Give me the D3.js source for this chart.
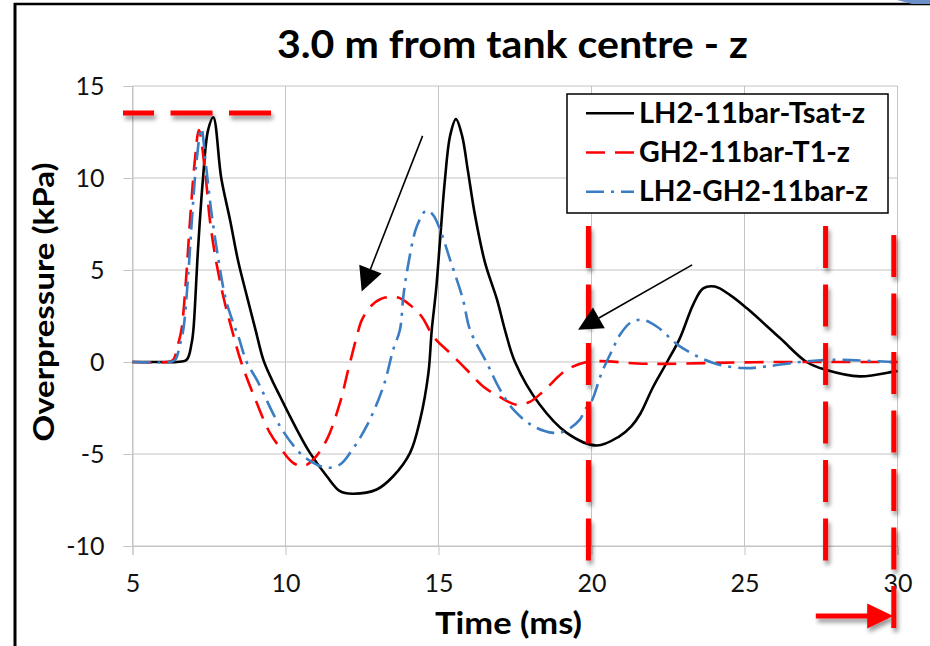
<!DOCTYPE html>
<html>
<head>
<meta charset="utf-8">
<script src="https://cdn.jsdelivr.net/npm/d3@7"></script>
<style>
  body { margin: 0; background: #fff; }
  svg { display: block; }
  text { font-family: Lato, "Open Sans", "Noto Sans", sans-serif; }
</style>
</head>
<body>
<svg id="chart" width="930" height="646"></svg>
<script>
// ---- series data: time (ms) and overpressure (kPa) ----
const blackTime = [5.0, 6.0, 6.44, 6.77, 6.93, 6.99, 7.14, 7.30, 7.47, 7.64, 7.90, 8.19, 8.45, 8.75, 9.02, 9.28,
  9.55, 9.82, 10.10, 10.37, 10.80, 11.35, 11.78, 12.18, 12.98, 13.52, 14.07, 14.40, 14.67, 14.78, 14.92, 15.05,
  15.21, 15.38, 15.57, 15.77, 15.96, 16.19, 16.52, 16.91, 17.17, 17.50, 18.30, 19.19, 20.17, 20.90, 21.30, 21.60,
  22.00, 22.47, 22.89, 23.33, 23.65, 24.03, 24.52, 25.07, 26.16, 27.03, 27.65, 28.77, 29.92, 30.0];
const blackKPa = [0, 0, 0, 0.12, 1.0, 1.75, 6.1, 9.9, 12.6, 13.3, 10.0, 7.7, 5.5, 3.5, 1.75, 0.1,
  -0.95, -1.86, -2.8, -3.67, -4.94, -6.21, -7.02, -7.16, -6.93, -6.21, -4.94, -3.13, -0.6, 1.75, 3.9, 6.6,
  9.9, 12.3, 13.2, 12.3, 10.4, 8.0, 5.4, 3.4, 1.75, 0, -2.3, -3.85, -4.54, -4.05, -3.5, -2.8,
  -1.4, 0, 1.3, 3.15, 4.0, 4.1, 3.65, 2.93, 1.3, 0, -0.42, -0.78, -0.51, -0.5];

const redTime = [5.0, 6.12, 6.33, 6.50, 6.60, 6.75, 6.88, 7.04, 7.17, 7.37, 7.53, 7.73, 7.99, 8.25, 8.55, 9.06,
  9.49, 9.87, 10.25, 10.58, 10.91, 11.35, 11.78, 12.05, 12.33, 12.50, 12.83, 13.25, 13.68, 14.07, 14.46, 14.83,
  15.40, 15.92, 16.45, 17.00, 17.55, 18.00, 18.42, 19.19, 19.84, 20.30, 21.50, 22.50, 24.0, 26.0, 28.0, 30.0];
const redKPa = [0, 0, 0.12, 1.03, 1.75, 4.5, 7.7, 11.0, 12.6, 10.4, 7.7, 5.5, 3.4, 1.75, 0, -2.22,
  -3.85, -4.76, -5.48, -5.66, -5.3, -4.22, -2.22, -0.42, 1.39, 2.3, 3.1, 3.5, 3.5, 3.1, 2.45, 1.39,
  0.45, -0.42, -1.32, -1.9, -2.32, -2.15, -1.6, -0.42, 0, 0.05, -0.08, -0.1, -0.05, 0, 0, 0];

const blueTime = [5.0, 6.2, 6.39, 6.55, 6.66, 6.81, 6.94, 7.08, 7.25, 7.40, 7.57, 7.80, 8.05, 8.32, 8.46, 8.73,
  9.06, 9.82, 10.47, 10.91, 11.35, 11.78, 12.11, 12.65, 13.20, 13.52, 13.74, 13.85, 14.00, 14.29, 14.60, 14.82,
  15.05, 15.38, 15.80, 16.03, 16.58, 17.01, 17.45, 18.10, 18.75, 19.13, 19.62, 19.79, 20.00, 20.33, 20.71, 20.93,
  21.26, 21.64, 22.13, 22.89, 23.98, 24.96, 25.73, 26.81, 27.90, 29.86, 30.0];
const blueKPa = [0, 0, 0.1, 0.94, 1.75, 4.5, 7.7, 10.7, 12.7, 10.7, 8.25, 5.65, 3.4, 2.0, 1.39, 0,
  -0.96, -3.49, -4.94, -5.48, -5.75, -5.57, -4.94, -3.49, -1.32, 0.67, 1.75, 3.56, 5.2, 7.36, 8.23, 8.0,
  7.2, 5.55, 3.4, 1.75, -0.05, -1.5, -2.59, -3.49, -3.85, -3.76, -3.13, -2.59, -2.14, -0.6, 0.76, 1.48,
  2.12, 2.3, 1.93, 0.85, -0.05, -0.33, -0.24, 0, 0.12, 0, 0];

const seriesNames = ["LH2-11bar-Tsat-z", "GH2-11bar-T1-z", "LH2-GH2-11bar-z"];
const xTicks = [5, 10, 15, 20, 25, 30];
const yTicks = [-10, -5, 0, 5, 10, 15];

// annotation positions (data units)
const peakLevelKPa = 13.53;
const peakLevelSpan = [4.69, 9.56];
const markerTimes = [19.9, 27.65, 29.88];
const markerTopKPa = [7.39, 7.39, 6.9];
const markerBottomKPa = [-10.79, -10.79, -14.46];
const endArrowTime = [27.33, 29.86];
const endArrowKPa = -13.8;
const pointerFrom = [[14.48, 12.29], [23.29, 5.28]];
const pointerTo = [[12.49, 3.83], [19.56, 1.75]];

// ---- layout ----
const svg = d3.select("#chart");
const x = d3.scaleLinear().domain([5, 30]).range([132.5, 897.5]);
const y = d3.scaleLinear().domain([-10, 15]).range([546, 86]);
const gridColor = "#c4c4c4";

svg.append("rect").attr("width", 930).attr("height", 646).attr("fill", "#fff");

// slide frame
svg.append("line").attr("x1", 15).attr("x2", 15).attr("y1", 3).attr("y2", 646)
  .attr("stroke", "#000").attr("stroke-width", 3);
svg.append("line").attr("x1", 14).attr("x2", 930).attr("y1", 4).attr("y2", 4)
  .attr("stroke", "#000").attr("stroke-width", 2.5);
svg.append("path").attr("d", "M897,0 L930,0 L930,4 L912,4 Z").attr("fill", "#6b8fc7");

// drop shadow for the red markup shapes
const defs = svg.append("defs");
const f = defs.append("filter").attr("id", "shadow").attr("x", "-50%").attr("y", "-50%")
  .attr("width", "200%").attr("height", "200%");
f.append("feDropShadow").attr("dx", 2).attr("dy", 4).attr("stdDeviation", 2.2)
  .attr("flood-color", "#000").attr("flood-opacity", 0.4);

// gridlines
const grid = svg.append("g");
grid.selectAll(".gx").data(xTicks).join("line")
  .attr("x1", d => x(d)).attr("x2", d => x(d)).attr("y1", y(15)).attr("y2", y(-10))
  .attr("stroke", gridColor).attr("stroke-width", 1);
grid.selectAll(".gy").data(yTicks).join("line")
  .attr("x1", x(5)).attr("x2", x(30)).attr("y1", d => y(d)).attr("y2", d => y(d))
  .attr("stroke", gridColor).attr("stroke-width", 1);

// axes
const fmt = d => String(d);
const yAxis = svg.append("g").attr("transform", `translate(${x(5)},0)`)
  .call(d3.axisLeft(y).tickValues(yTicks).tickSize(9).tickPadding(19).tickFormat(fmt));
const xAxis = svg.append("g").attr("transform", `translate(0,${y(-10)})`)
  .call(d3.axisBottom(x).tickValues(xTicks).tickSize(9).tickPadding(19).tickFormat(fmt));
[yAxis, xAxis].forEach(a => {
  a.select(".domain").attr("stroke", gridColor);
  a.selectAll(".tick line").attr("stroke", gridColor);
  a.selectAll(".tick text").attr("font-size", 25).attr("fill", "#111")
    .attr("font-family", "Lato, 'Open Sans', sans-serif");
});

// series
const line = d3.line().x(d => x(d[0])).y(d => y(d[1])).curve(d3.curveCatmullRom.alpha(0.5));
const zip = (t, v) => t.map((tt, i) => [tt, v[i]]);
const series = [
  { name: seriesNames[0], pts: zip(blackTime, blackKPa), color: "#000", dash: null },
  { name: seriesNames[1], pts: zip(redTime, redKPa), color: "#ff0000", dash: "19 10" },
  { name: seriesNames[2], pts: zip(blueTime, blueKPa), color: "#3a7dc3", dash: "18 7 3 7" }
];
svg.append("g").selectAll("path").data(series).join("path")
  .attr("d", d => line(d.pts)).attr("fill", "none")
  .attr("stroke", d => d.color).attr("stroke-width", 2.6)
  .attr("stroke-linejoin", "round")
  .attr("stroke-dasharray", d => d.dash);

// title and axis titles
svg.append("text").attr("x", 277).attr("y", 58).attr("font-size", 38).attr("font-weight", 700)
  .attr("textLength", 471).attr("lengthAdjust", "spacingAndGlyphs")
  .text("3.0 m from tank centre - z");
svg.append("text").attr("transform", "translate(54,302) rotate(-90)").attr("text-anchor", "middle")
  .attr("font-size", 28).attr("font-weight", 700)
  .attr("textLength", 279).attr("lengthAdjust", "spacingAndGlyphs")
  .text("Overpressure (kPa)");
svg.append("text").attr("x", 435).attr("y", 634).attr("font-size", 30).attr("font-weight", 700)
  .attr("textLength", 147).attr("lengthAdjust", "spacingAndGlyphs")
  .text("Time (ms)");

// legend
const lg = svg.append("g");
lg.append("rect").attr("x", 567).attr("y", 94).attr("width", 321).attr("height", 119)
  .attr("fill", "#fff").attr("stroke", "#000").attr("stroke-width", 1.5);
const legendWidths = [226, 211, 229];
series.forEach((s, i) => {
  const cy = 113.3 + i * 39.2;
  lg.append("line").attr("x1", 586).attr("x2", 634).attr("y1", cy).attr("y2", cy)
    .attr("stroke", s.color).attr("stroke-width", 2.6).attr("stroke-dasharray", s.dash);
  lg.append("text").attr("x", 639).attr("y", cy + 9.5).attr("font-size", 28).attr("font-weight", 700)
    .attr("textLength", legendWidths[i]).attr("lengthAdjust", "spacingAndGlyphs")
    .text(s.name);
});

// red markup: peak level and time markers
const red = svg.append("g").attr("filter", "url(#shadow)");
red.append("line")
  .attr("x1", x(peakLevelSpan[0])).attr("x2", x(peakLevelSpan[1]))
  .attr("y1", y(peakLevelKPa)).attr("y2", y(peakLevelKPa))
  .attr("stroke", "#ff0000").attr("stroke-width", 5)
  .attr("stroke-dasharray", "42 16.5").attr("stroke-dashoffset", 11);
markerTimes.forEach((t, i) => {
  red.append("line").attr("x1", x(t)).attr("x2", x(t))
    .attr("y1", y(markerTopKPa[i])).attr("y2", y(markerBottomKPa[i]))
    .attr("stroke", "#ff0000").attr("stroke-width", 5).attr("stroke-dasharray", "42 16.5");
});
const ax0 = x(endArrowTime[0]), ax1 = x(endArrowTime[1]), ay = y(endArrowKPa);
red.append("line").attr("x1", ax0).attr("x2", ax1 - 24).attr("y1", ay).attr("y2", ay)
  .attr("stroke", "#ff0000").attr("stroke-width", 5);
red.append("path").attr("d", `M${ax1},${ay} L${ax1 - 26},${ay - 12.5} L${ax1 - 26},${ay + 12.5} Z`)
  .attr("fill", "#ff0000");

// black pointer arrows
pointerFrom.forEach((p0, i) => {
  const p1 = pointerTo[i];
  const x0 = x(p0[0]), y0 = y(p0[1]), x1 = x(p1[0]), y1 = y(p1[1]);
  const len = Math.hypot(x1 - x0, y1 - y0), ux = (x1 - x0) / len, uy = (y1 - y0) / len;
  const bx = x1 - 24 * ux, by = y1 - 24 * uy, px = -uy * 12, py = ux * 12;
  svg.append("line").attr("x1", x0).attr("y1", y0).attr("x2", bx).attr("y2", by)
    .attr("stroke", "#000").attr("stroke-width", 1.6);
  svg.append("path").attr("d", `M${x1},${y1} L${bx + px},${by + py} L${bx - px},${by - py} Z`)
    .attr("fill", "#000");
});
</script>
</body>
</html>
